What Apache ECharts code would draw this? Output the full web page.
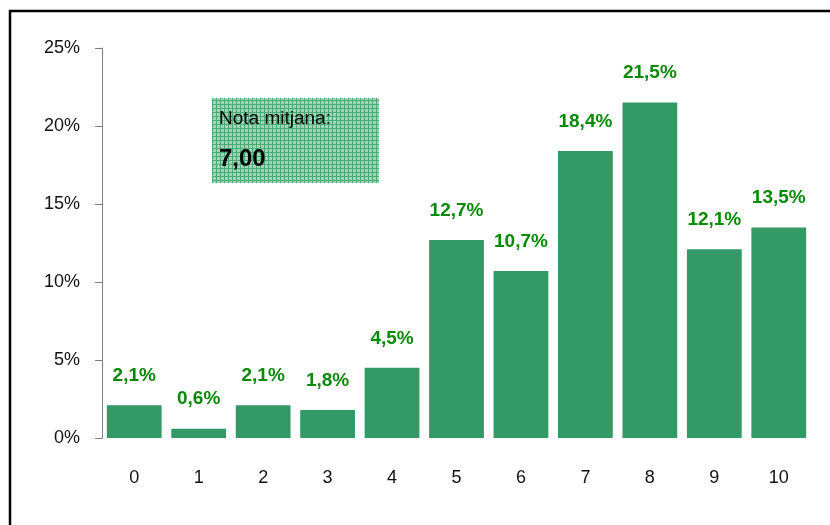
<!DOCTYPE html>
<html>
<head>
<meta charset="utf-8">
<script src="https://cdn.jsdelivr.net/npm/echarts@6/dist/echarts.min.js"></script>
<style>
  html, body { margin: 0; padding: 0; background: #fff; }
  #chart { width: 830px; height: 525px; }
</style>
</head>
<body>
<div id="chart"></div>
<script>
// notes 0..10 i percentatge d'alumnes
const categories = ['0', '1', '2', '3', '4', '5', '6', '7', '8', '9', '10'];
const percentages = [2.1, 0.6, 2.1, 1.8, 4.5, 12.7, 10.7, 18.4, 21.5, 12.1, 13.5];
const yTicks = [0, 5, 10, 15, 20, 25];
const noteTitle = 'Nota mitjana:';
const noteValue = '7,00';

// patró de quadrícula per al requadre de la nota mitjana
const pat = document.createElement('canvas');
pat.width = 4;
pat.height = 4;
const pctx = pat.getContext('2d');
pctx.fillStyle = '#a3d4b6';
pctx.fillRect(0, 0, 4, 4);
pctx.fillStyle = '#4fa877';
pctx.fillRect(0, 0, 4, 1);
pctx.fillRect(0, 0, 1, 4);

const chart = echarts.init(document.getElementById('chart'));

const option = {
  backgroundColor: '#fff',
  animation: false,
  grid: { left: 102, right: 19, top: 48, bottom: 87 },
  xAxis: {
    type: 'category',
    data: categories,
    axisLine: { show: false },
    axisTick: { show: false },
    axisLabel: {
      margin: 31,
      color: '#111',
      fontFamily: 'Liberation Sans, Arial, sans-serif',
      fontSize: 18
    }
  },
  yAxis: {
    type: 'value',
    min: yTicks[0],
    max: yTicks[yTicks.length - 1],
    interval: 5,
    splitLine: { show: false },
    axisLine: { show: true, lineStyle: { color: '#808080', width: 1 } },
    axisTick: { show: true, length: 7, lineStyle: { color: '#808080' } },
    axisLabel: {
      margin: 22,
      color: '#111',
      fontFamily: 'Liberation Sans, Arial, sans-serif',
      fontSize: 18,
      formatter: '{value}%'
    }
  },
  series: [
    {
      type: 'bar',
      data: percentages,
      barCategoryGap: '15%',
      itemStyle: { color: '#339966' },
      label: {
        show: true,
        position: 'top',
        distance: 20,
        color: '#088a08',
        fontWeight: 'bold',
        fontFamily: 'Liberation Sans, Arial, sans-serif',
        fontSize: 19,
        formatter: p => p.value.toFixed(1).replace('.', ',') + '%'
      }
    }
  ],
  graphic: [
    {
      type: 'rect',
      shape: { x: 10, y: 11, width: 900, height: 600 },
      style: { fill: 'none', stroke: '#000', lineWidth: 2.5 },
      silent: true
    },
    {
      type: 'rect',
      shape: { x: 212, y: 98, width: 167, height: 85 },
      style: { fill: { image: pat, repeat: 'repeat' } },
      silent: true
    },
    {
      type: 'text',
      left: 219,
      top: 109,
      style: {
        text: noteTitle,
        fill: '#000',
        font: '19px "Liberation Sans", Arial, sans-serif'
      }
    },
    {
      type: 'text',
      left: 219,
      top: 147,
      style: {
        text: noteValue,
        fill: '#000',
        font: 'bold 24px "Liberation Sans", Arial, sans-serif'
      }
    }
  ]
};

chart.setOption(option);
</script>
</body>
</html>
